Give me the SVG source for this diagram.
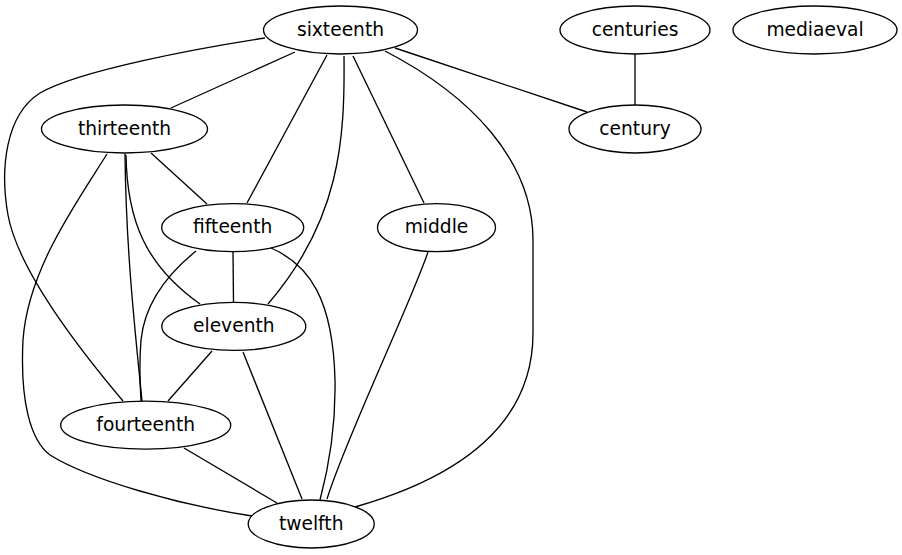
<svg xmlns="http://www.w3.org/2000/svg" width="902" height="555" viewBox="0 0 902 555">
<style>
ellipse{fill:none;stroke:#000;stroke-width:1.33}
text{font-family:"DejaVu Sans",sans-serif;font-size:18.67px;text-anchor:middle;fill:#000}
.e path{fill:none;stroke:#000;stroke-width:1.33}
</style>
<rect width="902" height="555" fill="#fff"/>
<g class="e" id="edges">
<path d="M295,52 L171,108"/>
<path d="M265,38 C200,48 80,70 40,93 C5,115 0,170 8,215 C18,270 80,350 123,401"/>
<path d="M327,55 L247,203"/>
<path d="M344,56 C345,140 340,220 268,304"/>
<path d="M353,56 L424,203"/>
<path d="M385,51 C470,95 533,160 533,240 L533,333 C533,430 450,480 355,507"/>
<path d="M395,48 L587,112"/>
<path d="M635,54 L635,105"/>
<path d="M151,153 L207,204"/>
<path d="M126,155 C127,220 145,265 200,304"/>
<path d="M125,154 C126,250 135,330 142,401"/>
<path d="M107,154 C75,205 28,270 23,340 C20,400 30,440 50,455 C90,480 180,505 252,516"/>
<path d="M233,252 L233.5,302"/>
<path d="M196,251 C170,272 145,300 141,340 C139,365 140,385 141,401"/>
<path d="M271,248 C310,265 333,300 335,380 C336,430 328,470 320,500"/>
<path d="M212,351 L168,401"/>
<path d="M243,352 L302,499"/>
<path d="M428,252 C410,305 345,440 327,499"/>
<path d="M184,448 L277,503"/>
</g>
<g id="sixteenth"><ellipse cx="340.5" cy="30" rx="77" ry="24"/><text x="340.5" y="35.5">sixteenth</text></g>
<g id="centuries"><ellipse cx="635" cy="30" rx="75" ry="24"/><text x="635" y="35.5">centuries</text></g>
<g id="mediaeval"><ellipse cx="815" cy="30" rx="82" ry="24"/><text x="815" y="35.5">mediaeval</text></g>
<g id="thirteenth"><ellipse cx="124.5" cy="129" rx="83" ry="24"/><text x="124.5" y="134.5">thirteenth</text></g>
<g id="century"><ellipse cx="635" cy="129" rx="66" ry="24"/><text x="635" y="134.5">century</text></g>
<g id="fifteenth"><ellipse cx="232.7" cy="227.6" rx="71" ry="24"/><text x="232.7" y="233.1">fifteenth</text></g>
<g id="middle"><ellipse cx="436.5" cy="227.6" rx="59" ry="24"/><text x="436.5" y="233.1">middle</text></g>
<g id="eleventh"><ellipse cx="233.8" cy="326.4" rx="72" ry="24"/><text x="233.8" y="331.9">eleventh</text></g>
<g id="fourteenth"><ellipse cx="145.7" cy="425.2" rx="85" ry="24"/><text x="145.7" y="430.7">fourteenth</text></g>
<g id="twelfth"><ellipse cx="311.2" cy="524" rx="63" ry="24"/><text x="311.2" y="529.5">twelfth</text></g>
</svg>
